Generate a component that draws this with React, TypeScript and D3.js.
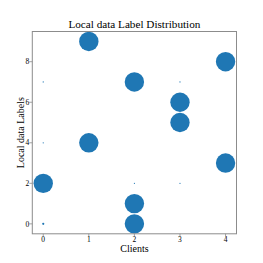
import React from "react";
import * as d3 from "d3";

const clients = [0, 1, 1, 2, 2, 2, 3, 3, 4, 4, 0, 0, 0, 2, 3, 3];
const labels = [2, 9, 4, 7, 1, 0, 6, 5, 8, 3, 0, 4, 7, 2, 2, 7];
const counts = [5000, 5000, 5000, 5000, 5000, 5000, 5000, 5000, 5000, 5000, 65, 20, 20, 20, 20, 20];
const xTicks = [0, 1, 2, 3, 4];
const yTicks = [0, 2, 4, 6, 8];

const W = 263, H = 263;
const L = 32.3, R = 236.5, T = 31.5, B = 233.8;

export default function App() {
  const x = d3.scaleLinear().domain([-0.24, 4.24]).range([L, R]);
  const y = d3.scaleLinear().domain([-0.49, 9.49]).range([B, T]);
  const r = d3.scaleSqrt().domain([0, 5000]).range([0, 9.7]);
  const font = "'Liberation Serif', 'Times New Roman', serif";
  const gray = "#8c8c8c";
  return (
    <svg width={W} height={H} style={{ position: "absolute", left: 0, top: 0 }} fontFamily={font}>
      <rect x={0} y={0} width={W} height={H} fill="#fff" />
      <text x={(L + R) / 2} y={27.5} textAnchor="middle" fontSize={11.2} fill="#000">
        Local data Label Distribution
      </text>
      {clients.map((c, i) => (
        <circle key={i} cx={x(c)} cy={y(labels[i])} r={r(counts[i])} fill="#1f77b4" />
      ))}
      <rect x={L} y={T} width={R - L} height={B - T} fill="none" stroke={gray} strokeWidth={1} />
      {xTicks.map((t) => (
        <g key={"x" + t}>
          <line x1={x(t)} x2={x(t)} y1={B} y2={B + 3} stroke={gray} strokeWidth={0.8} />
          <text x={x(t)} y={242} textAnchor="middle" fontSize={7.5} fill="#000">{t}</text>
        </g>
      ))}
      {yTicks.map((t) => (
        <g key={"y" + t}>
          <line x1={L - 3} x2={L} y1={y(t)} y2={y(t)} stroke={gray} strokeWidth={0.8} />
          <text x={29.3} y={y(t) + 2.7} textAnchor="end" fontSize={7.5} fill="#000">{t}</text>
        </g>
      ))}
      <text x={(L + R) / 2} y={251.5} textAnchor="middle" fontSize={10} fill="#000">Clients</text>
      <text transform={`translate(20.5, ${(T + B) / 2}) rotate(-90)`} textAnchor="middle" fontSize={10} fill="#000" dy="0.35em">
        Local data Labels
      </text>
    </svg>
  );
}
